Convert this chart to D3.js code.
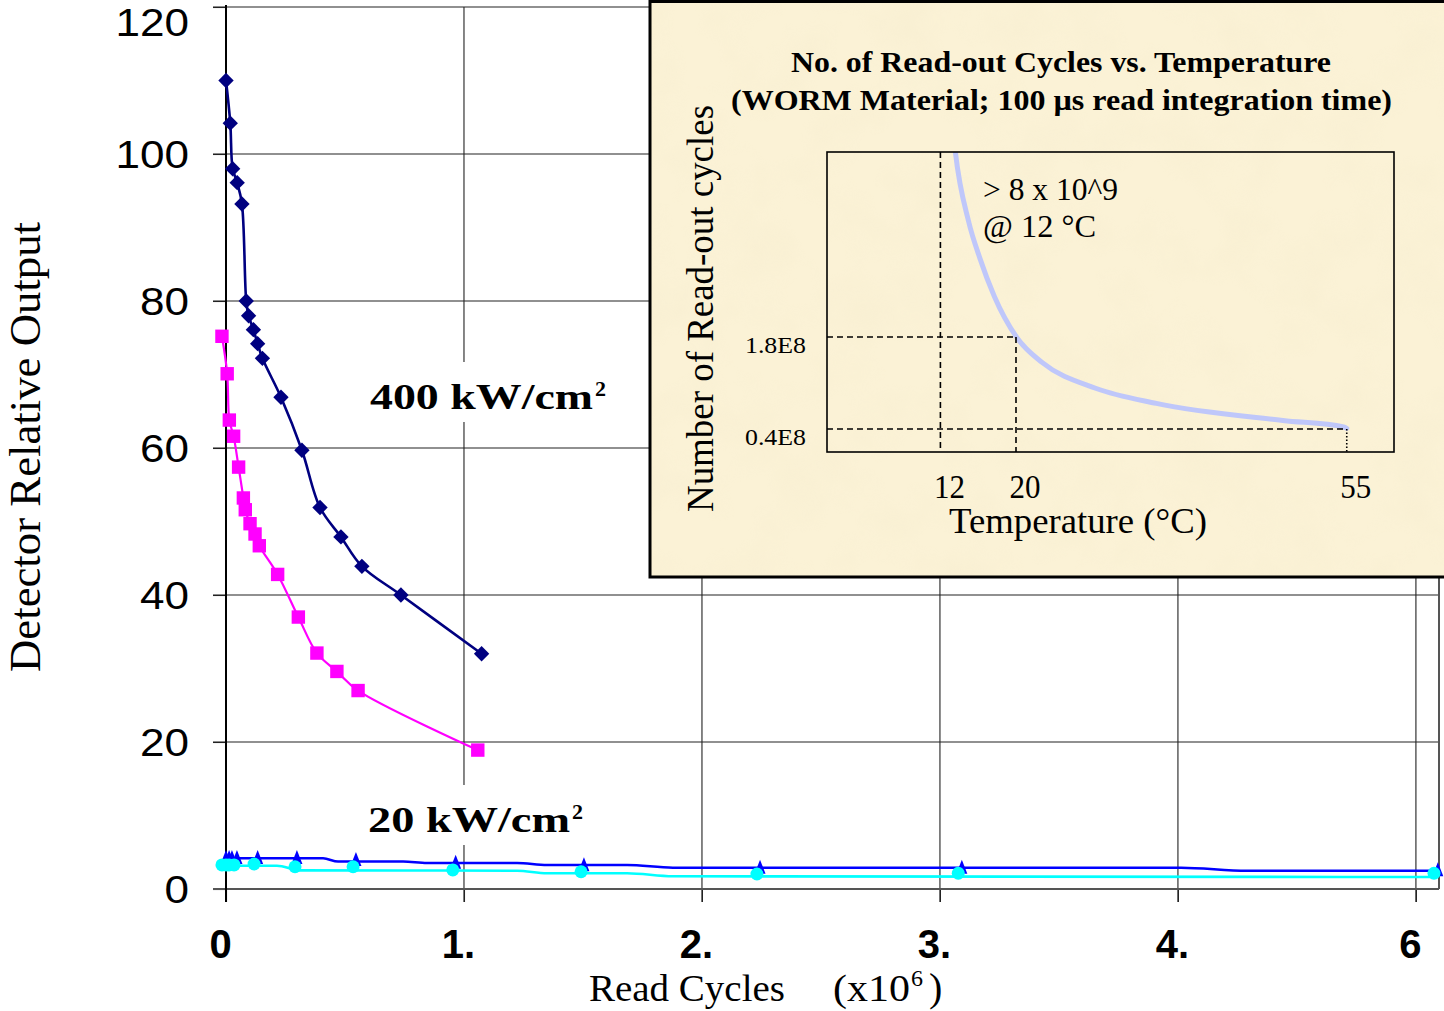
<!DOCTYPE html>
<html>
<head>
<meta charset="utf-8">
<script src="https://cdn.jsdelivr.net/npm/d3@7"></script>
<style>
  html, body { margin: 0; padding: 0; background: #fff; }
  svg { display: block; }
</style>
</head>
<body>
<svg id="chart" width="1444" height="1011"></svg>
<script>
// ---------- main chart data (read cycles in units of 10^6) ----------
const cycleTicks = [0, 1, 2, 3, 4, 5];
const cycleTickLabels = ["0", "1.", "2.", "3.", "4.", "6"];
const outputTicks = [0, 20, 40, 60, 80, 100, 120];

// 400 kW/cm2, first sample (navy diamonds)
const navyCycles = [0, 0.018, 0.028, 0.047, 0.067, 0.085, 0.095, 0.115, 0.133, 0.153, 0.231, 0.319, 0.395, 0.483, 0.571, 0.735, 1.074];
const navyOutput = [110.0, 104.2, 98.0, 96.1, 93.2, 80.0, 78.0, 76.1, 74.2, 72.2, 66.9, 59.7, 51.9, 47.9, 43.9, 40.0, 32.0];

// 400 kW/cm2, second sample (magenta squares)
const magentaCycles = [-0.017, 0.005, 0.014, 0.032, 0.053, 0.073, 0.081, 0.101, 0.122, 0.140, 0.217, 0.304, 0.382, 0.466, 0.555, 1.058];
const magentaOutput = [75.2, 70.1, 63.8, 61.6, 57.4, 53.2, 51.6, 49.7, 48.3, 46.7, 42.8, 37.0, 32.1, 29.6, 27.0, 18.9];

// 20 kW/cm2, first sample (blue triangles) and its connecting line
const blueCycles = [0, 0.013, 0.025, 0.046, 0.133, 0.298, 0.546, 0.965, 1.504, 2.244, 3.092, 5.092];
const blueOutput = [4.22, 4.22, 4.22, 4.22, 4.22, 4.22, 3.95, 3.58, 3.22, 2.90, 2.90, 2.55];
const blueLineCycles = [0, 0.408, 0.471, 0.744, 0.845, 1.223, 1.349, 1.685, 1.878, 4.013, 4.29, 5.092];
const blueLineOutput = [4.18, 4.18, 3.74, 3.74, 3.54, 3.54, 3.27, 3.27, 2.90, 2.90, 2.49, 2.49];

// 20 kW/cm2, second sample (cyan circles) and its connecting line
const cyanCycles = [-0.017, 0, 0.013, 0.034, 0.118, 0.290, 0.534, 0.953, 1.492, 2.231, 3.077, 5.076];
const cyanOutput = [3.27, 3.27, 3.27, 3.27, 3.40, 3.03, 3.03, 2.59, 2.35, 2.04, 2.14, 2.14];
const cyanLineCycles = [-0.017, 0.214, 0.311, 0.744, 1.223, 1.349, 1.685, 1.878, 5.092];
const cyanLineOutput = [3.17, 3.17, 2.54, 2.52, 2.49, 2.14, 2.14, 1.73, 1.63];

// ---------- inset data (temperature in C, read-out cycles in units of 1E8) ----------
const tempTicks = [12, 20, 55];
const readoutTickValues = [1.8, 0.4];
const readoutTickLabels = ["1.8E8", "0.4E8"];
const curveTemp = [13.3, 13.58, 15.0, 16.2, 17.7, 20.1, 22.79, 28.42, 34.85, 48.25, 54.68, 55];
const curveReadouts = [5.0, 4.62, 3.55, 2.99, 2.42, 1.79, 1.41, 1.02, 0.79, 0.53, 0.43, 0.41];

const SERIF = "'Liberation Serif', 'Times New Roman', serif";
const SANS = "'Liberation Sans', Arial, sans-serif";

const svg = d3.select("#chart");
const defs = svg.append("defs");

// ---------- main plot scales ----------
const plotLeft = 226, plotRight = 1439, plotTop = 7, plotBottom = 889;
const x = d3.scaleLinear().domain([0, 5.097]).range([plotLeft, plotRight]);
const y = d3.scaleLinear().domain([0, 120]).range([plotBottom, plotTop]);

const zip = (xs, ys) => xs.map((v, i) => [v, ys[i]]);

// grid
const grid = svg.append("g");
grid.selectAll("line.h").data(outputTicks.filter(d => d > 0)).join("line")
  .attr("x1", plotLeft - 13).attr("x2", plotRight)
  .attr("y1", d => y(d)).attr("y2", d => y(d))
  .attr("stroke", "#222").attr("stroke-width", 1.1);
grid.selectAll("line.v").data(cycleTicks.filter(d => d > 0)).join("line")
  .attr("x1", d => x(d)).attr("x2", d => x(d))
  .attr("y1", plotTop).attr("y2", plotBottom + 13)
  .attr("stroke", "#222").attr("stroke-width", 1.1);
grid.append("line").attr("x1", plotRight).attr("x2", plotRight).attr("y1", plotTop).attr("y2", plotBottom)
  .attr("stroke", "#555").attr("stroke-width", 2);

// axes
const yAxis = svg.append("g").attr("transform", `translate(${plotLeft},0)`)
  .call(d3.axisLeft(y).tickValues(outputTicks).tickSize(13).tickPadding(24));
yAxis.select(".domain").remove();
yAxis.selectAll(".tick line").attr("stroke", "#222").attr("stroke-width", 1.1);
yAxis.selectAll(".tick text")
  .attr("font-family", SANS).attr("font-size", 38).attr("fill", "#000")
  .attr("dy", d => Math.max(0, 22 - y(d)) + 13)
  .attr("textLength", d => String(d).length * 24.5)
  .attr("lengthAdjust", "spacingAndGlyphs");

const xAxis = svg.append("g").attr("transform", `translate(0,${plotBottom})`)
  .call(d3.axisBottom(x).tickValues(cycleTicks).tickFormat((d, i) => cycleTickLabels[i]).tickSize(13));
xAxis.select(".domain").remove();
xAxis.selectAll(".tick line").attr("stroke", "#222").attr("stroke-width", 1.1);
xAxis.selectAll(".tick text")
  .attr("font-family", SANS).attr("font-weight", "bold").attr("font-size", 40).attr("fill", "#000")
  .attr("y", 958 - plotBottom).attr("dy", 0).attr("dx", -6);

svg.append("line").attr("x1", plotLeft - 13).attr("x2", plotRight).attr("y1", plotBottom).attr("y2", plotBottom)
  .attr("stroke", "#555").attr("stroke-width", 2);
svg.append("line").attr("x1", plotLeft).attr("x2", plotLeft).attr("y1", plotTop - 2).attr("y2", plotBottom + 13)
  .attr("stroke", "#000").attr("stroke-width", 2);

// axis titles
svg.append("text").attr("transform", "translate(40,447) rotate(-90)")
  .attr("text-anchor", "middle").attr("font-family", SERIF).attr("font-size", 44)
  .attr("textLength", 450).attr("lengthAdjust", "spacingAndGlyphs")
  .text("Detector Relative Output");

svg.append("text").attr("x", 589).attr("y", 1001)
  .attr("font-family", SERIF).attr("font-size", 37)
  .attr("textLength", 196).attr("lengthAdjust", "spacingAndGlyphs")
  .text("Read Cycles");
svg.append("text").attr("x", 833).attr("y", 1001)
  .attr("font-family", SERIF).attr("font-size", 37)
  .attr("textLength", 77).attr("lengthAdjust", "spacingAndGlyphs")
  .text("(x10");
svg.append("text").attr("x", 911).attr("y", 986)
  .attr("font-family", SERIF).attr("font-size", 24).text("6");
svg.append("text").attr("x", 929).attr("y", 1001)
  .attr("font-family", SERIF).attr("font-size", 40).text(")");

// series labels on white boxes
function powerLabel(x0, baseline, boxY, boxW, mainW, txt) {
  svg.append("rect").attr("x", x0 - 8).attr("y", boxY).attr("width", boxW).attr("height", 60).attr("fill", "#fff");
  svg.append("text").attr("x", x0).attr("y", baseline)
    .attr("font-family", SERIF).attr("font-weight", "bold").attr("font-size", 36)
    .attr("textLength", mainW).attr("lengthAdjust", "spacingAndGlyphs").text(txt);
  svg.append("text").attr("x", x0 + mainW + 2).attr("y", baseline - 13)
    .attr("font-family", SERIF).attr("font-weight", "bold").attr("font-size", 22).text("2");
}
powerLabel(370, 409, 362, 256, 223, "400 kW/cm");
powerLabel(368, 832, 785, 234, 202, "20 kW/cm");

// ---------- series ----------
const smooth = d3.line().x(d => x(d[0])).y(d => y(d[1])).curve(d3.curveCatmullRom.alpha(0.5));
const stepSmooth = d3.line().x(d => x(d[0])).y(d => y(d[1])).curve(d3.curveMonotoneX);

const triangle = {
  draw(ctx, size) {
    const s = Math.sqrt(size / 70);
    ctx.moveTo(0, -8 * s); ctx.lineTo(5.5 * s, 6 * s); ctx.lineTo(-5.5 * s, 6 * s); ctx.closePath();
  }
};

function series(pts, linePts, lineGen, color, width, symbolType, size, rotate) {
  svg.append("path").attr("d", lineGen(linePts)).attr("fill", "none")
    .attr("stroke", color).attr("stroke-width", width).attr("stroke-linejoin", "round");
  const sym = d3.symbol().type(symbolType).size(size);
  svg.append("g").selectAll("path").data(pts).join("path")
    .attr("transform", d => `translate(${x(d[0])},${y(d[1])}) rotate(${rotate})`)
    .attr("d", sym).attr("fill", color);
}

const navyPts = zip(navyCycles, navyOutput);
const magentaPts = zip(magentaCycles, magentaOutput);
series(navyPts, navyPts, smooth, "#000080", 2.6, d3.symbolSquare, 118, 45);
series(magentaPts, magentaPts, smooth, "#ff00ff", 2.2, d3.symbolSquare, 180, 0);
series(zip(blueCycles, blueOutput), zip(blueLineCycles, blueLineOutput), stepSmooth, "#0000ff", 2.6, triangle, 70, 0);
series(zip(cyanCycles, cyanOutput), zip(cyanLineCycles, cyanLineOutput), stepSmooth, "#00ffff", 2.6, d3.symbolCircle, 133, 0);

// ---------- inset panel ----------
const filter = defs.append("filter").attr("id", "parchment").attr("x", 0).attr("y", 0).attr("width", 1).attr("height", 1);
filter.append("feTurbulence").attr("type", "fractalNoise").attr("baseFrequency", 0.018)
  .attr("numOctaves", 3).attr("seed", 7).attr("result", "noise");
filter.append("feColorMatrix").attr("in", "noise").attr("type", "matrix")
  .attr("values", "0 0 0 0 0.88  0 0 0 0 0.80  0 0 0 0 0.58  1.1 0 0 0 -0.45");

svg.append("rect").attr("x", 650).attr("y", 1.5).attr("width", 800).attr("height", 575.5)
  .attr("fill", "#fbf2d6");
svg.append("rect").attr("x", 651).attr("y", 3).attr("width", 800).attr("height", 573)
  .attr("filter", "url(#parchment)").attr("opacity", 0.4);
svg.append("rect").attr("x", 650).attr("y", 1.5).attr("width", 800).attr("height", 575.5)
  .attr("fill", "none").attr("stroke", "#000").attr("stroke-width", 3);

const ix = d3.scaleLinear().domain([0, 60]).range([827, 1394]);
const iy = d3.scaleLinear().domain([0.05, 4.616]).range([452, 152]);

defs.append("clipPath").attr("id", "insetClip").append("rect")
  .attr("x", 827).attr("y", 152).attr("width", 567).attr("height", 300);

const inset = svg.append("g");
inset.append("text").attr("x", 1061).attr("y", 72).attr("text-anchor", "middle")
  .attr("font-family", SERIF).attr("font-weight", "bold").attr("font-size", 30)
  .attr("textLength", 540).attr("lengthAdjust", "spacingAndGlyphs")
  .text("No. of Read-out Cycles vs. Temperature");
inset.append("text").attr("x", 1061.5).attr("y", 110).attr("text-anchor", "middle")
  .attr("font-family", SERIF).attr("font-weight", "bold").attr("font-size", 30)
  .attr("textLength", 661).attr("lengthAdjust", "spacingAndGlyphs")
  .text("(WORM Material; 100 \u00b5s read integration time)");

inset.append("text").attr("transform", "translate(713,308.5) rotate(-90)")
  .attr("text-anchor", "middle").attr("font-family", SERIF).attr("font-size", 37)
  .attr("textLength", 407).attr("lengthAdjust", "spacingAndGlyphs")
  .text("Number of Read-out cycles");

// curve
inset.append("path").attr("clip-path", "url(#insetClip)")
  .attr("d", d3.line().x(d => ix(d[0])).y(d => iy(d[1])).curve(d3.curveMonotoneX)(zip(curveTemp, curveReadouts)))
  .attr("fill", "none").attr("stroke", "#bfc7fa").attr("stroke-width", 5).attr("stroke-linecap", "round");

// reference lines
const dash = (x1, y1, x2, y2, pattern) => inset.append("line")
  .attr("x1", x1).attr("y1", y1).attr("x2", x2).attr("y2", y2)
  .attr("stroke", "#000").attr("stroke-width", 1.6).attr("stroke-dasharray", pattern);
dash(ix(12), iy.range()[1], ix(12), iy.range()[0], "6,4");
dash(ix(20), iy(1.8), ix(20), iy.range()[0], "6,4");
dash(ix(0), iy(1.8), ix(20), iy(1.8), "6,4");
dash(ix(0), iy(0.4), ix(55), iy(0.4), "6,4");
dash(ix(55), iy(0.4), ix(55), iy.range()[0], "1.5,2");

inset.append("rect").attr("x", 827).attr("y", 152).attr("width", 567).attr("height", 300)
  .attr("fill", "none").attr("stroke", "#000").attr("stroke-width", 1.6);

// inset tick labels
inset.selectAll("text.tx").data(tempTicks).join("text")
  .attr("x", d => ix(d) + 9).attr("y", 498).attr("text-anchor", "middle")
  .attr("font-family", SERIF).attr("font-size", 33)
  .attr("textLength", 31).attr("lengthAdjust", "spacingAndGlyphs")
  .text(d => d);
inset.selectAll("text.ty").data(readoutTickValues).join("text")
  .attr("x", 806).attr("y", d => iy(d) + 16).attr("text-anchor", "end")
  .attr("font-family", SERIF).attr("font-size", 23)
  .attr("textLength", 61).attr("lengthAdjust", "spacingAndGlyphs")
  .text((d, i) => readoutTickLabels[i]);

inset.append("text").attr("x", 1078).attr("y", 533).attr("text-anchor", "middle")
  .attr("font-family", SERIF).attr("font-size", 35)
  .attr("textLength", 258).attr("lengthAdjust", "spacingAndGlyphs")
  .text("Temperature (\u00b0C)");

inset.append("text").attr("x", 983).attr("y", 200)
  .attr("font-family", SERIF).attr("font-size", 32)
  .attr("textLength", 135).attr("lengthAdjust", "spacingAndGlyphs")
  .text("> 8 x 10^9");
inset.append("text").attr("x", 983).attr("y", 237)
  .attr("font-family", SERIF).attr("font-size", 32)
  .attr("textLength", 113).attr("lengthAdjust", "spacingAndGlyphs")
  .text("@ 12 \u00b0C");
</script>
</body>
</html>
